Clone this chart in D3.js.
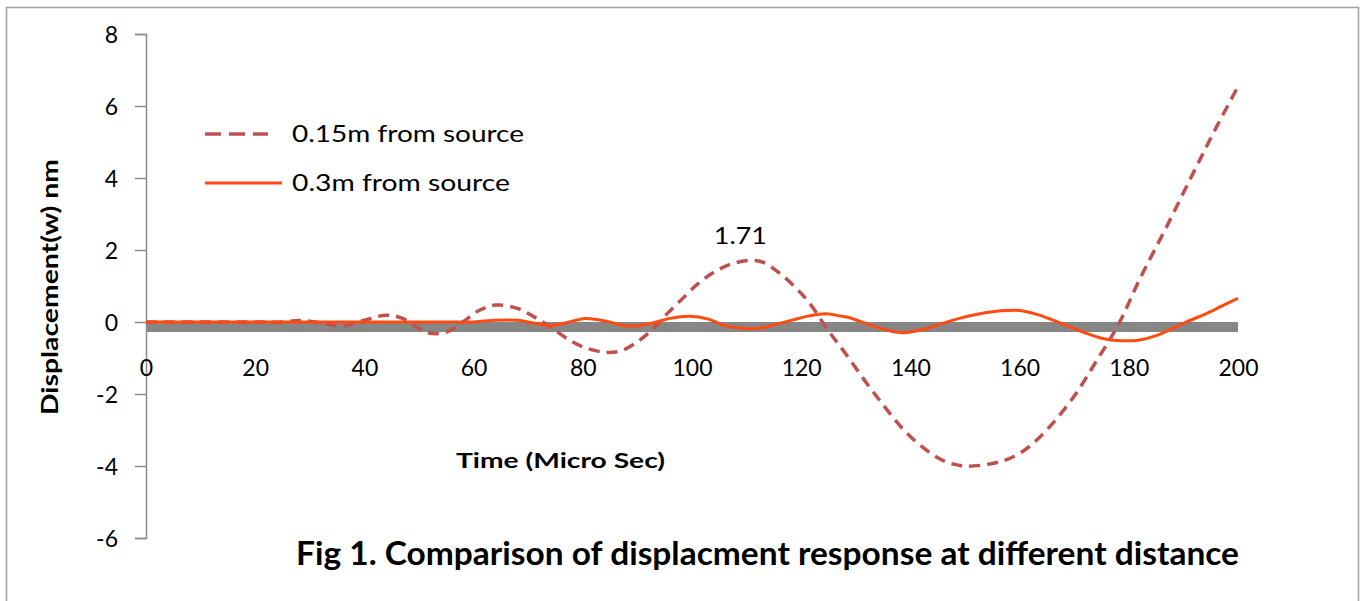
<!DOCTYPE html>
<html>
<head>
<meta charset="utf-8">
<script src="https://cdn.jsdelivr.net/npm/d3@7"></script>
<style>
  html, body { margin: 0; padding: 0; background: #fff; }
  svg { display: block; }
  text { font-family: Lato, "Open Sans", sans-serif; fill: #000; }
</style>
</head>
<body>
<svg id="chart" width="1362" height="601"></svg>
<script>
// ---------- data ----------
const xTicks = [0, 20, 40, 60, 80, 100, 120, 140, 160, 180, 200];
const yTicks = [-6, -4, -2, 0, 2, 4, 6, 8];

const seriesNames = ["0.15m from source", "0.3m from source"];

const timeNear = [0, 10, 20, 25, 28, 31, 33, 36, 40, 44, 47, 50, 52, 55, 58, 61, 64, 68, 71, 74, 77, 80, 84, 87, 90, 93, 95.5, 98, 101, 104, 107, 110.5, 113, 116, 119, 121.5, 125, 128, 131.5, 135, 138.5, 142, 146, 150, 155, 158, 161, 164, 167, 170.5, 174, 178, 182, 187, 192, 196, 200];
const dispNear = [0, 0, 0, 0, 0.04, 0.0, -0.06, -0.11, 0.05, 0.19, 0.1, -0.18, -0.31, -0.28, 0.0, 0.32, 0.47, 0.38, 0.15, -0.13, -0.45, -0.69, -0.84, -0.8, -0.55, -0.17, 0.24, 0.61, 1.05, 1.38, 1.6, 1.71, 1.66, 1.36, 0.95, 0.53, -0.25, -0.85, -1.6, -2.3, -2.95, -3.45, -3.85, -4.0, -3.93, -3.8, -3.55, -3.15, -2.65, -1.95, -1.1, -0.1, 1.19, 2.67, 4.2, 5.4, 6.54];

const timeFar = [0, 20, 40, 55, 60, 64, 68, 71, 74, 77, 80.5, 84, 88.5, 93, 96, 99.5, 103, 106, 109.5, 112.5, 115, 118.5, 121.5, 124.5, 127, 129, 132.5, 135.5, 138.5, 141, 143, 146, 149, 152.5, 156.5, 160, 163, 166, 169, 172, 175, 178.5, 182, 185, 188, 190.5, 194, 197, 200];
const dispFar = [0, 0, 0, 0, 0, 0.05, 0.05, -0.03, -0.1, -0.02, 0.1, 0.03, -0.12, -0.02, 0.1, 0.16, 0.08, -0.1, -0.18, -0.17, -0.08, 0.06, 0.17, 0.23, 0.17, 0.11, -0.08, -0.22, -0.3, -0.25, -0.18, -0.03, 0.1, 0.22, 0.31, 0.32, 0.22, 0.06, -0.12, -0.3, -0.45, -0.52, -0.5, -0.38, -0.18, 0, 0.22, 0.44, 0.66];

const peakLabel = { t: 110.5, v: 1.71, text: "1.71" };

const chartTitle = "Fig 1. Comparison of displacment response at different distance";
const xTitle = "Time (Micro Sec)";
const yTitle = "Displacement(w) nm";

// ---------- layout ----------
const svg = d3.select("#chart");
const plotLeft = 146, plotRight = 1238, plotTop = 34, plotBottom = 538;

const x = d3.scaleLinear().domain([0, 200]).range([plotLeft, plotRight]);
const y = d3.scaleLinear().domain([-6, 8]).range([plotBottom, plotTop]);

function fit(sel, w) {
  sel.attr("textLength", w).attr("lengthAdjust", "spacingAndGlyphs");
}

// outer border
svg.append("rect")
  .attr("x", 6.5).attr("y", 7.5).attr("width", 1352).attr("height", 605)
  .attr("fill", "none").attr("stroke", "#a0a0a0").attr("stroke-width", 1.5);

// horizontal thick axis band at zero
svg.append("rect")
  .attr("x", x(0)).attr("y", y(0))
  .attr("width", x(200) - x(0)).attr("height", 10)
  .attr("fill", "#868686");

// y axis
const yAxis = d3.axisLeft(y).tickValues(yTicks).tickSize(11).tickPadding(0).tickFormat(d3.format("d"));
const yg = svg.append("g").attr("transform", `translate(${plotLeft},0)`).call(yAxis);
yg.select(".domain").attr("stroke", "#8c8c8c").attr("stroke-width", 1.5);
yg.selectAll(".tick line").attr("stroke", "#8c8c8c").attr("stroke-width", 1.5);
yg.selectAll(".tick text")
  .attr("x", -28).attr("dy", "0.36em")
  .style("font-family", "Lato, sans-serif").style("font-size", "23px").attr("fill", "#000")
  .text(d => d < 0 ? "-" + Math.abs(d) : d);

// x axis labels (no tick marks)
const xAxis = d3.axisBottom(x).tickValues(xTicks).tickSize(0).tickPadding(0).tickFormat(d3.format("d"));
const xg = svg.append("g").attr("transform", `translate(0,${y(0)})`).call(xAxis);
xg.select(".domain").remove();
xg.selectAll(".tick text")
  .attr("y", 54).attr("dy", "0")
  .style("font-family", "Lato, sans-serif").style("font-size", "23px").attr("fill", "#000");

// lines
const line = d3.line().x(d => x(d[0])).y(d => y(d[1])).curve(d3.curveCatmullRom.alpha(0.5));
const nearData = timeNear.map((t, i) => [t, dispNear[i]]);
const farData = timeFar.map((t, i) => [t, dispFar[i]]);

svg.append("path").datum(nearData).attr("d", line)
  .attr("fill", "none").attr("stroke", "#C0504D").attr("stroke-width", 3.5)
  .attr("stroke-dasharray", "11,7");

svg.append("path").datum(farData).attr("d", line)
  .attr("fill", "none").attr("stroke", "#FF4A10").attr("stroke-width", 3);

// peak label
svg.append("text").attr("x", x(peakLabel.t) - 9).attr("y", y(peakLabel.v) - 16)
  .attr("text-anchor", "middle").style("font-size", "23px").text(peakLabel.text)
  .call(fit, 53);

// legend
const legend = svg.append("g");
legend.append("line").attr("x1", 205).attr("x2", 268).attr("y1", 134).attr("y2", 134)
  .attr("stroke", "#C0504D").attr("stroke-width", 3.5).attr("stroke-dasharray", "16,8");
legend.append("text").attr("x", 292).attr("y", 142).style("font-size", "23px").text(seriesNames[0]).call(fit, 232);
legend.append("line").attr("x1", 205).attr("x2", 282).attr("y1", 183).attr("y2", 183)
  .attr("stroke", "#FF4A10").attr("stroke-width", 3);
legend.append("text").attr("x", 292).attr("y", 191).style("font-size", "23px").text(seriesNames[1]).call(fit, 218);

// axis titles
svg.append("text").attr("x", 456).attr("y", 468)
  .style("font-size", "21px").style("font-weight", "bold").text(xTitle).call(fit, 209);

svg.append("text").attr("transform", "translate(58,287) rotate(-90)")
  .attr("text-anchor", "middle").style("font-size", "22px").style("font-weight", "bold")
  .text(yTitle).call(fit, 256);

// chart title
svg.append("text").attr("x", 296).attr("y", 565)
  .style("font-size", "32px").style("font-weight", "bold").text(chartTitle).call(fit, 943);
</script>
</body>
</html>
